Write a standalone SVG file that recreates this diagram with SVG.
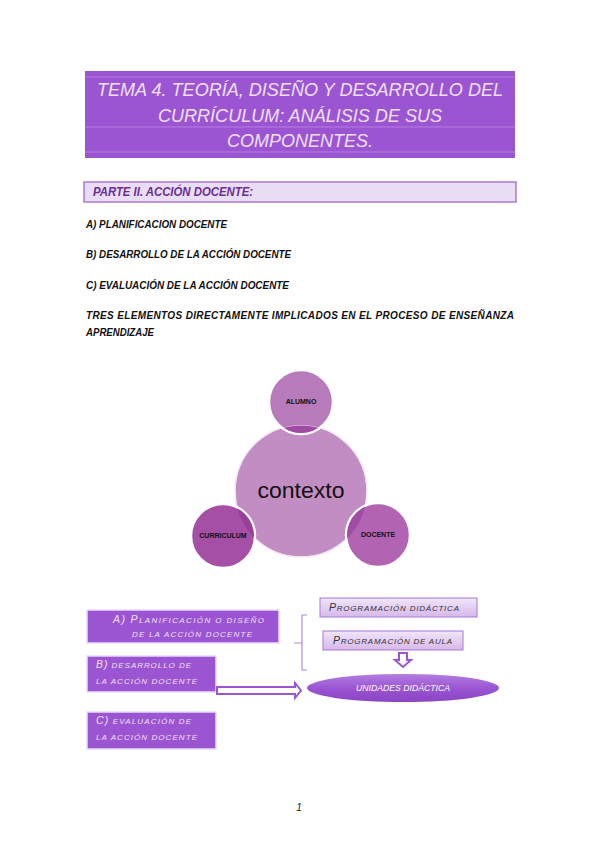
<svg xmlns="http://www.w3.org/2000/svg" width="599" height="848" viewBox="0 0 599 848">
<defs>
<linearGradient id="lav" x1="0" y1="0" x2="0" y2="1"><stop offset="0" stop-color="#f1e6f9"/><stop offset="1" stop-color="#d6b8ea"/></linearGradient>
<linearGradient id="ell" x1="0" y1="0" x2="0" y2="1"><stop offset="0" stop-color="#b47ee2"/><stop offset="0.5" stop-color="#9b55d3"/><stop offset="1" stop-color="#8a44c4"/></linearGradient>
<clipPath id="bigc"><circle cx="301" cy="491" r="66"/></clipPath>
</defs>
<style>
.body{font-family:"Liberation Sans",Arial,sans-serif;font-weight:bold;font-style:italic;font-size:10px;fill:#111}
.title{font-family:"Liberation Sans",Arial,sans-serif;font-style:italic;font-size:18px;fill:#eee0f8}
.box{fill:#9b55d3;stroke:#eadcf8;stroke-width:1.5}
.bt{font-family:"Liberation Sans",Arial,sans-serif;font-style:italic;font-size:8px;fill:#efe0f6}
.rt{font-family:"Liberation Sans",Arial,sans-serif;font-style:italic;font-size:8px;fill:#333}
.cap{font-size:10.5px}
.lbl{font-family:"Liberation Sans",Arial,sans-serif;font-weight:bold;font-size:7px;fill:#111;text-anchor:middle}
.ring{stroke:#fff;stroke-width:2.5}
</style>
<rect width="599" height="848" fill="#fff"/>

<g id="title">
<rect x="85" y="71" width="430" height="87" fill="#9b55d3"/>
<line x1="85" y1="77" x2="515" y2="77" stroke="#b47ee2" stroke-width="1"/>
<line x1="85" y1="127" x2="515" y2="127" stroke="#b47ee2" stroke-width="1"/>
<line x1="85" y1="152" x2="515" y2="152" stroke="#b47ee2" stroke-width="1"/>
<text class="title" x="97" y="96" textLength="406" lengthAdjust="spacingAndGlyphs">TEMA 4. TEORÍA, DISEÑO Y DESARROLLO DEL</text>
<text class="title" x="158" y="122" textLength="284" lengthAdjust="spacingAndGlyphs">CURRÍCULUM: ANÁLISIS DE SUS</text>
<text class="title" x="227" y="147" textLength="146" lengthAdjust="spacingAndGlyphs">COMPONENTES.</text>
</g>

<g id="parte">
<rect x="84" y="182" width="432" height="20" fill="#e9ddf6" stroke="#a878d6" stroke-width="1.5"/>
<text x="93" y="196" font-family="Liberation Sans, Arial, sans-serif" font-weight="bold" font-style="italic" font-size="12" fill="#6a2d91" textLength="160" lengthAdjust="spacingAndGlyphs">PARTE II. ACCIÓN DOCENTE:</text>
</g>

<g id="lines">
<text class="body" x="86" y="228" textLength="141" lengthAdjust="spacingAndGlyphs">A) PLANIFICACION DOCENTE</text>
<text class="body" x="86" y="258" textLength="205" lengthAdjust="spacingAndGlyphs">B) DESARROLLO DE LA ACCIÓN DOCENTE</text>
<text class="body" x="86" y="289" textLength="203" lengthAdjust="spacingAndGlyphs">C) EVALUACIÓN DE LA ACCIÓN DOCENTE</text>
<text class="body" x="86" y="319" textLength="428" lengthAdjust="spacing">TRES ELEMENTOS DIRECTAMENTE IMPLICADOS EN EL PROCESO DE ENSEÑANZA</text>
<text class="body" x="86" y="336" textLength="68" lengthAdjust="spacingAndGlyphs">APRENDIZAJE</text>
</g>

<g id="contexto">
<circle cx="301" cy="491" r="66" fill="#c28dc2" stroke="#f3e8f3" stroke-width="1.5"/>
</g>
<g id="alumno">
<circle class="ring" cx="301" cy="402" r="32" fill="#b77bbb"/>
<circle cx="301" cy="402" r="31" fill="#a04ca4" clip-path="url(#bigc)"/>
<circle cx="301" cy="491" r="66" fill="none" stroke="#f3e8f3" stroke-width="1" clip-path="url(#bigc)"/>
<text class="lbl" x="301" y="404">ALUMNO</text>
</g>
<g id="curriculum">
<circle class="ring" cx="223" cy="536" r="32" fill="#a64fa6"/>
<circle cx="223" cy="536" r="31" fill="#973f99" clip-path="url(#bigc)"/>
<text class="lbl" x="223" y="538">CURRICULUM</text>
</g>
<g id="docente">
<circle class="ring" cx="378" cy="535" r="32" fill="#b264b2"/>
<circle cx="378" cy="535" r="31" fill="#a04ca4" clip-path="url(#bigc)"/>
<text class="lbl" x="378" y="537">DOCENTE</text>
</g>
<text x="301" y="498" font-family="Liberation Sans, Arial, sans-serif" font-size="22" fill="#111" text-anchor="middle" textLength="87" lengthAdjust="spacingAndGlyphs">contexto</text>

<g id="boxA">
<rect class="box" x="87" y="610" width="192" height="33"/>
<text class="bt" x="113" y="623" textLength="151" lengthAdjust="spacing"><tspan class="cap">A) P</tspan>LANIFICACIÓN O DISEÑO</text>
<text class="bt" x="132" y="637" textLength="120" lengthAdjust="spacing">DE LA ACCIÓN DOCENTE</text>
</g>
<g id="boxB">
<rect class="box" x="87" y="656" width="129" height="36"/>
<text class="bt" x="96" y="668" textLength="95" lengthAdjust="spacing"><tspan class="cap">B)</tspan> DESARROLLO DE</text>
<text class="bt" x="96" y="684" textLength="101" lengthAdjust="spacing">LA ACCIÓN DOCENTE</text>
</g>
<g id="boxC">
<rect class="box" x="87" y="712" width="129" height="37"/>
<text class="bt" x="96" y="724" textLength="95" lengthAdjust="spacing"><tspan class="cap">C)</tspan> EVALUACIÓN DE</text>
<text class="bt" x="96" y="740" textLength="101" lengthAdjust="spacing">LA ACCIÓN DOCENTE</text>
</g>

<g id="progDid">
<rect x="320" y="598" width="157" height="19" fill="url(#lav)" stroke="#a878d6" stroke-width="1"/>
<text class="rt" x="329" y="611" textLength="130" lengthAdjust="spacing"><tspan class="cap">P</tspan>ROGRAMACIÓN DIDÁCTICA</text>
</g>
<g id="progAula">
<rect x="323" y="631" width="140" height="19" fill="url(#lav)" stroke="#a878d6" stroke-width="1"/>
<text class="rt" x="333" y="644" textLength="119" lengthAdjust="spacing"><tspan class="cap">P</tspan>ROGRAMACIÓN DE AULA</text>
</g>
<g id="unidades">
<ellipse cx="403" cy="688" rx="96" ry="14" fill="url(#ell)"/>
<text x="403" y="691" font-family="Liberation Sans, Arial, sans-serif" font-style="italic" font-size="9" fill="#fff" text-anchor="middle" textLength="94" lengthAdjust="spacingAndGlyphs">UNIDADES DIDÁCTICA</text>
</g>

<g id="connectors" fill="#fff" stroke="#9b55d3" stroke-width="2" stroke-linejoin="miter">
<path d="M307,615 H302 V643 H294 M302,643 V670 H307" fill="none" stroke="#b488dc" stroke-width="1.2"/>
<polygon points="399,653 407,653 407,660 411,660 403,667 395,660 399,660"/>
<polygon points="217,687 295,687 295,683 301,690.5 295,698 295,694 217,694"/>
</g>

<text x="299" y="811" font-family="Liberation Sans, Arial, sans-serif" font-style="italic" font-size="10" fill="#222" text-anchor="middle">1</text>
</svg>
